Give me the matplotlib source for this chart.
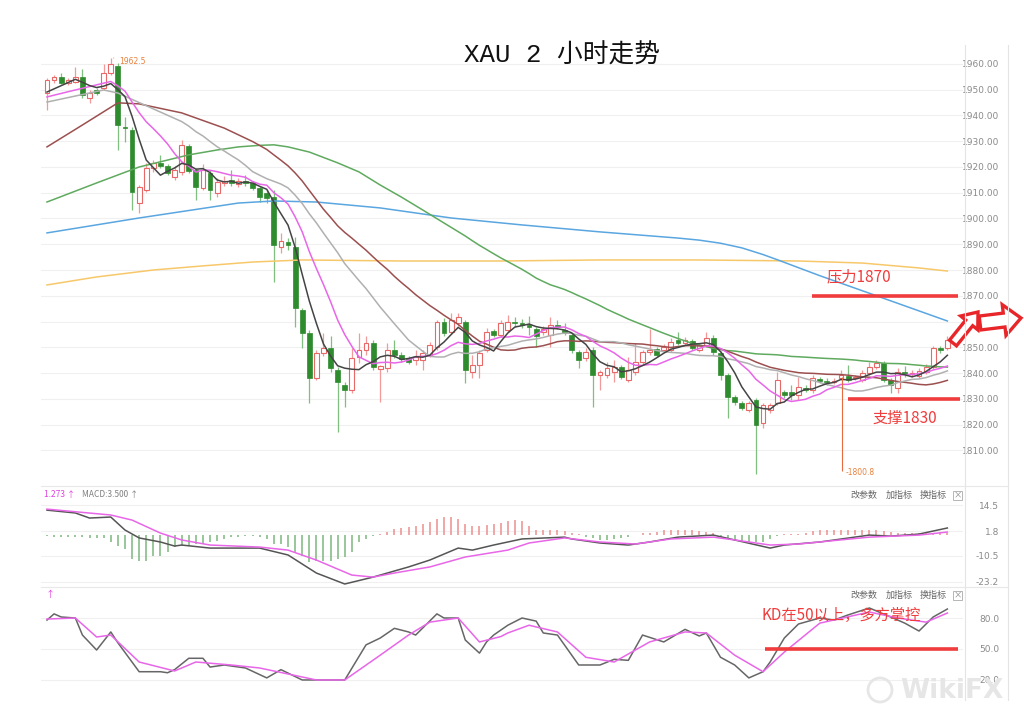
import numpy as np
import pandas as pd
import matplotlib
matplotlib.use("Agg")
import matplotlib.pyplot as plt
from matplotlib.patches import FancyArrow, Rectangle, Circle

plt.rcParams['font.family'] = ['Noto Sans CJK SC', 'DejaVu Sans']

# ---- XAU 2h candles ----
opens = [1948.7, 1953.8, 1955.0, 1952.6, 1953.0, 1955.0, 1946.8, 1949.9, 1950.7, 1956.5,
         1959.2, 1935.5, 1934.4, 1906.0, 1911.1, 1919.6, 1921.6, 1920.4, 1916.1, 1918.1,
         1928.2, 1918.8, 1911.9, 1917.7, 1909.9, 1913.8, 1915.0, 1913.4, 1914.6, 1913.8,
         1911.9, 1909.9, 1908.4, 1888.9, 1890.9, 1888.9, 1864.5, 1855.5, 1838.1, 1847.8,
         1849.7, 1841.2, 1835.4, 1833.4, 1846.2, 1848.9, 1851.6, 1841.6, 1842.0, 1848.9,
         1847.0, 1845.4, 1845.1, 1845.1, 1847.0, 1850.1, 1859.8, 1855.9, 1859.4, 1859.8,
         1840.4, 1843.1, 1848.9, 1856.3, 1854.8, 1856.7, 1859.8, 1859.4, 1858.6, 1857.1,
         1855.9, 1854.8, 1858.6, 1856.7, 1854.8, 1848.2, 1845.8, 1848.9, 1839.2, 1839.2,
         1840.4, 1842.3, 1837.3, 1840.4, 1844.3, 1848.2, 1849.3, 1848.9, 1848.9, 1852.8,
         1851.6, 1852.4, 1848.9, 1850.9, 1853.6, 1847.8, 1839.2, 1830.7, 1828.4, 1825.6,
         1829.5, 1820.6, 1825.6, 1828.4, 1832.6, 1832.6, 1831.5, 1834.2, 1833.4, 1837.7,
         1836.9, 1836.5, 1838.1, 1838.8, 1838.1, 1837.3, 1840.0, 1842.3, 1843.9, 1837.3,
         1834.2, 1840.4, 1839.8, 1838.8, 1840.4, 1842.3, 1849.7, 1849.7]
highs = [1954.6, 1955.7, 1956.5, 1954.6, 1958.8, 1958.1, 1949.9, 1950.7, 1960.0, 1962.5,
         1960.4, 1939.4, 1935.5, 1913.0, 1921.6, 1922.7, 1924.7, 1921.2, 1920.4, 1930.5,
         1929.0, 1919.6, 1921.2, 1918.8, 1915.7, 1916.5, 1918.8, 1915.7, 1916.9, 1914.6,
         1912.6, 1911.1, 1911.1, 1894.4, 1892.4, 1892.8, 1865.3, 1856.7, 1848.9, 1855.5,
         1854.4, 1842.3, 1836.5, 1849.7, 1855.5, 1854.4, 1852.8, 1843.1, 1851.6, 1852.8,
         1848.2, 1846.6, 1848.9, 1848.9, 1852.0, 1860.6, 1861.4, 1863.3, 1863.3, 1860.6,
         1847.0, 1848.9, 1857.5, 1857.1, 1860.6, 1862.5, 1861.8, 1861.0, 1862.1, 1857.9,
         1858.3, 1861.8, 1860.6, 1859.4, 1855.5, 1848.9, 1849.7, 1850.1, 1841.2, 1844.3,
         1845.1, 1843.1, 1846.2, 1851.6, 1848.9, 1857.1, 1850.1, 1851.3, 1853.6, 1855.9,
         1854.0, 1853.2, 1851.6, 1855.9, 1854.8, 1848.5, 1840.0, 1831.5, 1829.2, 1829.2,
         1830.3, 1828.4, 1828.4, 1840.4, 1833.4, 1835.4, 1838.5, 1835.4, 1839.2, 1838.5,
         1838.1, 1838.1, 1841.2, 1843.1, 1839.2, 1841.2, 1844.3, 1845.1, 1844.7, 1838.1,
         1842.0, 1842.7, 1841.2, 1842.0, 1843.5, 1850.5, 1850.5, 1854.4]
lows = [1942.1, 1952.6, 1952.2, 1951.8, 1952.6, 1946.8, 1944.9, 1948.0, 1949.9, 1955.7,
        1926.6, 1929.7, 1903.3, 1902.1, 1910.3, 1918.1, 1919.6, 1916.9, 1915.0, 1916.9,
        1917.7, 1907.2, 1911.1, 1907.2, 1908.4, 1912.6, 1912.6, 1912.2, 1912.6, 1911.1,
        1906.4, 1906.0, 1875.3, 1886.6, 1887.8, 1857.9, 1849.7, 1828.4, 1837.3, 1846.6,
        1840.4, 1817.1, 1826.8, 1832.2, 1843.9, 1847.0, 1841.2, 1828.8, 1840.4, 1845.8,
        1844.3, 1843.5, 1843.1, 1841.2, 1846.2, 1848.9, 1854.4, 1855.2, 1858.3, 1836.1,
        1838.1, 1838.1, 1848.2, 1854.0, 1854.0, 1855.9, 1857.9, 1857.5, 1854.8, 1850.1,
        1854.8, 1850.1, 1857.1, 1854.8, 1847.8, 1842.0, 1844.7, 1826.8, 1833.4, 1838.1,
        1836.5, 1837.7, 1836.5, 1839.2, 1843.5, 1847.0, 1846.2, 1848.2, 1848.2, 1850.9,
        1850.9, 1848.9, 1848.2, 1850.1, 1847.0, 1837.3, 1822.5, 1827.6, 1825.6, 1824.9,
        1800.8, 1818.7, 1824.5, 1827.6, 1830.3, 1829.5, 1829.5, 1832.6, 1832.2, 1836.1,
        1835.4, 1835.8, 1837.3, 1836.5, 1837.3, 1836.5, 1839.2, 1841.6, 1836.5, 1832.2,
        1832.2, 1838.5, 1838.5, 1838.1, 1839.6, 1841.6, 1847.8, 1848.9]
closes = [1953.8, 1955.0, 1952.6, 1953.8, 1955.0, 1948.0, 1948.7, 1948.7, 1956.5, 1960.0,
          1936.3, 1935.1, 1910.3, 1912.2, 1919.6, 1921.6, 1920.4, 1917.7, 1918.8, 1928.5,
          1918.5, 1912.2, 1918.8, 1911.1, 1914.2, 1914.6, 1913.8, 1914.6, 1913.8, 1911.9,
          1908.4, 1908.0, 1889.7, 1891.3, 1889.7, 1865.3, 1855.5, 1838.1, 1847.8, 1849.7,
          1842.0, 1836.5, 1833.4, 1845.8, 1848.9, 1851.6, 1842.3, 1842.7, 1848.9, 1847.0,
          1845.4, 1844.3, 1846.2, 1847.8, 1850.9, 1859.8, 1855.5, 1860.6, 1861.8, 1841.2,
          1843.1, 1847.8, 1855.9, 1854.8, 1859.4, 1859.8, 1859.4, 1858.6, 1857.9, 1854.4,
          1857.1, 1858.6, 1857.9, 1855.5, 1849.0, 1845.1, 1848.2, 1839.2, 1840.4, 1842.0,
          1842.3, 1838.5, 1841.2, 1844.3, 1848.2, 1848.9, 1847.0, 1850.1, 1852.0, 1851.6,
          1852.8, 1849.7, 1850.9, 1853.6, 1848.2, 1839.2, 1830.7, 1828.8, 1826.4, 1828.4,
          1819.8, 1827.6, 1827.6, 1837.3, 1831.5, 1831.5, 1834.6, 1833.4, 1838.1, 1836.9,
          1836.5, 1836.9, 1839.2, 1837.3, 1838.3, 1840.0, 1842.3, 1843.9, 1837.3, 1835.4,
          1840.4, 1839.6, 1840.0, 1840.8, 1842.3, 1849.7, 1848.9, 1852.8]

# moving averages: early part (history before the first bar),
# the rest is the rolling mean of the closes
ma5_early_idx = [0]
ma5_early_val = [1949.1]
ma10_early_idx = [0, 4]
ma10_early_val = [1947.2, 1949.9]
ma20_early_idx = [0, 8, 10]
ma20_early_val = [1945.2, 1949.9, 1948.7]
ma30_early_idx = [0, 5, 10, 13, 19, 25]
ma30_early_val = [1927.8, 1936.3, 1944.9, 1944.5, 1941.0, 1935.1]
ma60_early_idx = [0, 7, 13, 20, 24, 27, 30, 32, 34, 37, 41, 44, 47, 50, 53]
ma60_early_val = [1906.4, 1913.8, 1920.0, 1924.7, 1926.6, 1927.8, 1928.4, 1928.6, 1927.8,
                  1925.8, 1921.6, 1918.1, 1913.0, 1908.3, 1903.3]
# MA120 / MA250 need more history than shown, so read at sample bars
ma120_idx = [0, 13, 27, 32, 38, 47, 57, 67, 78, 89, 92, 95, 98, 101, 103, 109, 117, 127]
ma120_val = [1894.4, 1900.2, 1906.0, 1906.8, 1906.4, 1904.1, 1900.2, 1897.5, 1894.8, 1892.4,
             1891.6, 1890.4, 1888.6, 1886.0, 1884.0, 1877.8, 1870.0, 1860.2]
ma250_idx = [0, 7, 15, 22, 29, 36, 50, 64, 78, 92, 106, 115, 123, 127]
ma250_val = [1874.2, 1877.3, 1880.0, 1881.6, 1883.1, 1883.9, 1883.5, 1883.5, 1883.9, 1883.9,
             1883.5, 1882.7, 1880.8, 1879.6]

# MACD
macd_hist = [-0.8, -0.9, -1.0, -1.0, -1.1, -1.3, -1.5, -1.6, -1.8, -3.8,
             -5.4, -7.1, -12.0, -12.8, -12.8, -10.3, -10.3, -8.7, -6.2, -5.4,
             -5.4, -4.6, -4.6, -3.8, -3.0, -2.1, -1.3, -1.0, -0.8, -0.7,
             -1.0, -2.1, -4.6, -4.6, -6.2, -8.7, -10.3, -13.6, -12.8, -12.8,
             -12.8, -12.0, -11.2, -8.7, -3.8, -2.1, -0.5, 0.4, 1.1, 2.8,
             3.1, 3.6, 4.4, 5.3, 6.1, 7.7, 8.5, 8.9, 7.7, 5.3,
             4.4, 4.4, 4.8, 5.3, 5.7, 6.6, 7.0, 6.5, 4.5, 2.5,
             2.5, 2.5, 2.3, 1.6, 0.6, 0.2, -1.0, -1.5, -2.5, -2.5,
             -2.2, -1.5, -1.0, -0.3, 0.6, 1.0, 1.5, 2.3, 2.5, 2.5,
             2.1, 2.1, 1.8, 1.5, 0.9, -1.2, -2.1, -3.3, -3.6, -3.6,
             -3.6, -3.6, -2.1, -0.5, 0.2, 0.2, 0.3, 1.0, 1.8, 2.3,
             2.3, 2.3, 2.3, 2.3, 2.3, 2.3, 2.5, 2.3, 2.0, 1.2,
             0.7, 0.8, 0.8, 0.8, 0.8, 1.0, 1.0, 1.0]
dif_idx = [0, 4, 6, 9, 11, 13, 16, 18, 19, 23, 26, 30, 34, 38, 42, 46, 51, 54, 58, 60,
           63, 67, 73, 74, 78, 82, 85, 89, 94, 97, 102, 104, 109, 116, 119, 123, 125, 127]
dif_val = [12.1, 10.7, 8.2, 8.7, 2.3, -1.6, -3.6, -5.6, -5.1, -6.6, -6.6, -6.6, -10.0, -18.9,
           -24.3, -20.9, -15.9, -12.5, -6.6, -7.6, -5.1, -2.1, -1.2, -2.1, -4.1, -5.1, -3.6,
           -1.2, -0.2, -2.6, -6.6, -5.1, -3.6, -0.2, -0.7, 0.3, 1.8, 3.3]
dea_idx = [0, 9, 12, 16, 19, 23, 30, 34, 38, 43, 46, 49, 54, 59, 65, 68, 73, 78, 83, 88,
           94, 97, 102, 106, 116, 123, 127]
dea_val = [12.6, 9.7, 7.2, 0.8, -2.6, -5.1, -6.1, -7.6, -12.5, -19.9, -20.9, -18.9, -15.9,
           -11.0, -7.6, -4.1, -1.6, -3.6, -4.6, -2.1, -1.2, -2.6, -5.1, -4.6, -1.2, -0.2, 1.3]

# KD
k_idx = [0, 1, 2, 4, 5, 7, 9, 10, 13, 16, 17, 18, 20, 21, 22, 23, 25, 28, 31, 33,
         36, 39, 42, 45, 47, 49, 51, 52, 55, 56, 58, 59, 61, 62, 63, 65, 67, 69, 70, 72,
         75, 78, 80, 82, 84, 87, 90, 92, 93, 95, 97, 99, 101, 102, 104, 106, 109, 111, 113, 116,
         119, 121, 123, 125, 127]
k_val = [78, 84, 81, 80, 63.5, 49, 66.5, 56, 28, 28, 27, 30, 41, 41, 41, 32.5, 34.5, 31.6, 22, 30,
         20, 20, 20, 54, 60.6, 70, 66.5, 63.5, 84, 80, 80, 58.7, 46, 56.8, 63.5, 73, 80, 77, 65.5, 63.5,
         34.5, 34.5, 40, 39, 63.5, 56.8, 69, 62.6, 65.5, 42, 34.5, 22, 28, 37.4, 60.6, 74.2, 80, 78, 83, 89.7,
         81, 75, 67.4, 81, 88.7]
d_idx = [0, 4, 7, 9, 13, 18, 21, 26, 30, 34, 38, 42, 47, 51, 54, 58, 61, 64, 65, 68,
         72, 76, 80, 85, 90, 93, 97, 101, 104, 109, 116, 120, 124, 127]
d_val = [79, 80, 61.6, 63.5, 37.4, 28.7, 37.4, 34.5, 31.6, 25.8, 20, 20, 44, 63.5, 76, 80, 56.8, 62,
         65.5, 73, 66.5, 42, 37.4, 56.8, 66.5, 65.5, 44, 28, 47, 75, 85.8, 80, 76, 84.8]

price_ticks = list(range(1810, 1961, 10))
macd_ticks = [14.5, 1.8, -10.5, -23.2]
kd_ticks = [80.0, 50.0, 20.0]

RED = '#f03c3c'
GRID = '#f0f0f0'
TICK = '#8a8a8a'

o = np.array(opens); h = np.array(highs); l = np.array(lows); c = np.array(closes)
x = np.arange(len(c))
up = c >= o


def ma_line(n, early_idx, early_val):
    s = pd.Series(c).rolling(n).mean()
    return early_idx + list(range(n - 1, len(c))), early_val + list(s[n - 1:])


fig = plt.figure(figsize=(10.24, 7.26), dpi=100)
L, W = 0.040, 0.9004
ax = fig.add_axes([L, 0.3347, W, 0.5992])
ax_m = fig.add_axes([L, 0.1942, W, 0.1336])
ax_k = fig.add_axes([L, 0.0358, W, 0.1515])
xlim = (-0.85, 129.2)


def style(a, ticks, labels):
    a.set_xlim(xlim)
    a.set_xticks([])
    a.yaxis.tick_right()
    a.set_yticks(ticks)
    a.set_yticklabels(labels, fontsize=6.5, color=TICK, family='DejaVu Sans')
    a.tick_params(axis='y', length=0, pad=26)
    for t in a.get_yticklabels():
        t.set_ha('right')
    a.grid(axis='y', color=GRID, lw=0.8)
    a.set_axisbelow(True)
    for s in a.spines.values():
        s.set_visible(False)


# ---- price panel ----
body_lo = np.minimum(o, c)
body_h = np.maximum(np.abs(c - o), 0.3)
ax.vlines(x[up], l[up], h[up], color='#f29a9a', lw=0.9, zorder=2)
ax.vlines(x[~up], l[~up], h[~up], color='#7fbf7f', lw=0.9, zorder=2)
ax.bar(x[up], body_h[up], bottom=body_lo[up], width=0.68, facecolor='white',
       edgecolor='#e86868', lw=0.8, zorder=3)
ax.bar(x[~up], body_h[~up], bottom=body_lo[~up], width=0.68, color='#2e8b2e',
       edgecolor='#2e8b2e', lw=0.5, zorder=3)

ax.plot(ma250_idx, ma250_val, color='#f7c86a', lw=1.1, zorder=4)
ax.plot(ma120_idx, ma120_val, color='#5aa6e0', lw=1.1, zorder=4)
ax.plot(*ma_line(60, ma60_early_idx, ma60_early_val), color='#5faa5f', lw=1.1, zorder=4)
ax.plot(*ma_line(30, ma30_early_idx, ma30_early_val), color='#9c4f4f', lw=1.1, zorder=4)
ax.plot(*ma_line(20, ma20_early_idx, ma20_early_val), color='#b0b0b0', lw=1.1, zorder=4)
ax.plot(*ma_line(10, ma10_early_idx, ma10_early_val), color='#e866e8', lw=1.1, zorder=5)
ax.plot(*ma_line(5, ma5_early_idx, ma5_early_val), color='#444444', lw=1.1, zorder=6)

ax.set_ylim(1797.3, 1966.2)
style(ax, price_ticks, [f'{v:.2f}' for v in price_ticks])

ax.annotate('1962.5', xy=(9, 1962.5), xytext=(10.2, 1961.0), fontsize=5.5, color='#e8803a',
            va='center', family='DejaVu Sans',
            arrowprops=dict(arrowstyle='-', color='#e8803a', lw=0.6))
ax.vlines(112.1, 1802.0, 1838.5, color='#e86a40', lw=0.8, zorder=6)
ax.text(112.7, 1801.2, '-1800.8', fontsize=5.5, color='#e8803a', va='center', family='DejaVu Sans')

ax.hlines(1870, 107.9, 128.5, color=RED, lw=2.6, zorder=7)
ax.text(109.9, 1877.2, '压力1870', color=RED, fontsize=11, va='center', zorder=7)
ax.hlines(1830, 113.0, 128.8, color=RED, lw=2.6, zorder=7)
ax.text(116.4, 1822.3, '支撑1830', color=RED, fontsize=11, va='center', zorder=7)

# ---- MACD panel ----
hist = np.array(macd_hist)
ax_m.vlines(x, 0, hist, colors=np.where(hist > 0, '#ec8f8f', '#7db87d'), lw=1.1)
ax_m.plot(dif_idx, dif_val, color='#555555', lw=1.1)
ax_m.plot(dea_idx, dea_val, color='#e866e8', lw=1.1)
ax_m.set_ylim(-24.8, 23.0)
style(ax_m, macd_ticks, [str(v) for v in macd_ticks])

# ---- KD panel ----
ax_k.plot(k_idx, k_val, color='#666666', lw=1.1)
ax_k.plot(d_idx, d_val, color='#e866e8', lw=1.1)
ax_k.hlines(50, 101.3, 128.5, color=RED, lw=2.6)
ax_k.text(100.8, 82, 'KD在50以上，多方掌控', color=RED, fontsize=11, va='center')
ax_k.set_ylim(0.6, 107.1)
style(ax_k, kd_ticks, [f'{v:.1f}' for v in kd_ticks])

# ---- overlay in pixel coordinates for frame and decorations ----
ov = fig.add_axes([0, 0, 1, 1], zorder=10)
ov.set_xlim(0, 1024)
ov.set_ylim(726, 0)
ov.axis('off')
ov.patch.set_alpha(0)

for xv in (965, 1008):
    ov.plot([xv, xv], [45, 700], color='#e4e4e4', lw=0.8)
for yv in (486, 587):
    ov.plot([41, 1008], [yv, yv], color='#e8e8e8', lw=0.8)

ov.text(562, 55, 'XAU 2 小时走势', ha='center', va='center', fontsize=18.5, color='#111111',
        family=['Liberation Mono', 'Noto Sans CJK SC'])

ov.text(44, 494, '1.273 ↑', color='#e040e0', fontsize=6, va='center')
ov.text(82, 494, 'MACD:3.500 ↑', color='#808080', fontsize=6, va='center')
ov.text(46, 595, '↑', color='#e040e0', fontsize=6.5, va='center')
for yv in (495, 595):
    for xv, s in ((850, '改参数'), (886, '加指标'), (920, '换指标')):
        ov.text(xv, yv, s, fontsize=6.5, color='#666666', va='center')
    ov.add_patch(Rectangle((953, yv - 4.5), 9, 9, fill=False, ec='#aaaaaa', lw=0.6))
    ov.text(957.5, yv, '×', fontsize=6, color='#888888', ha='center', va='center')

ov.add_patch(FancyArrow(953, 343, 25, -31, width=9, head_width=22, head_length=14,
                        length_includes_head=True, fc='white', ec='#e8262a', lw=2.4))
ov.add_patch(FancyArrow(980, 323, 41, -5, width=14, head_width=31, head_length=17,
                        length_includes_head=True, fc='white', ec='#e8262a', lw=2.4))

ov.add_patch(Circle((880, 690), 12, fill=False, ec='#e6e6e6', lw=2))
ov.text(900, 691, 'WikiFX', fontsize=19, color='#e6e6e6', va='center', fontweight='bold',
        family='DejaVu Sans')

fig.savefig('out.png', dpi=100, facecolor='white')
